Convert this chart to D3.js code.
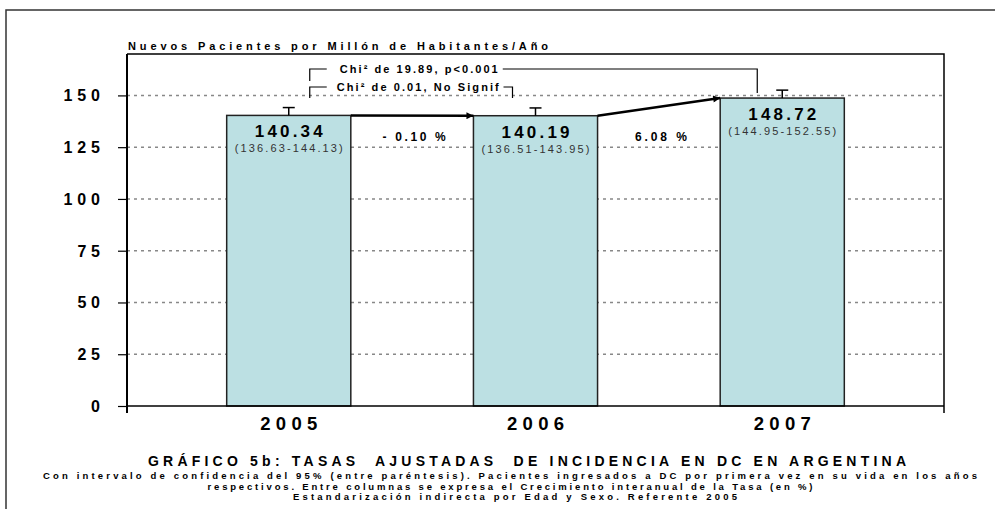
<!DOCTYPE html>
<html>
<head>
<meta charset="utf-8">
<script src="https://cdn.jsdelivr.net/npm/d3@7.9.0/dist/d3.min.js"></script>
<style>
  body { margin: 0; background: #fff; }
  svg { display: block; font-family: "Liberation Sans", Arial, sans-serif; }
</style>
</head>
<body>
<svg id="chart" width="995" height="509"></svg>
<script>
// chart data
const years = ['2005', '2006', '2007'];
const rates = [140.34, 140.19, 148.72];
const ciLow = [136.63, 136.51, 144.95];
const ciHigh = [144.13, 143.95, 152.55];
const growth = ['- 0.10 %', '6.08 %'];
const yTicks = [0, 25, 50, 75, 100, 125, 150];

const yTitle = 'Nuevos Pacientes por Millón de Habitantes/Año';
const chiLow = 'Chi² de 0.01, No Signif';
const chiHigh = 'Chi² de 19.89, p<0.001';
const title = 'GRÁFICO 5b: TASAS  AJUSTADAS  DE INCIDENCIA EN DC EN ARGENTINA';
const notes = [
    'Con intervalo de confidencia del 95% (entre paréntesis). Pacientes ingresados a DC por primera vez en su vida en los años',
    'respectivos. Entre columnas se expresa el Crecimiento interanual de la Tasa (en %)',
    'Estandarización indirecta por Edad y Sexo. Referente 2005'
];

const svg = d3.select('#chart');
const plotL = 127, plotR = 944, plotT = 54, plotB = 406;

let x = d3.scaleBand().domain(years).range([plotL, plotR])
    .paddingInner(0.497).paddingOuter(0.404);
let y = d3.scaleLinear().domain([0, 170]).range([plotB, plotT]);
let cx = (d) => x(d) + x.bandwidth() / 2;

// outer frame
svg.append('path')
    .attr('d', 'M6,509V10H995')
    .attr('fill', 'none').attr('stroke', '#333').attr('stroke-width', 1.5);

// spaced text helper (textLength stretches the letter spacing)
function label(g, txt, px, py, size, len, anchor, weight, color) {
    return g.append('text')
        .attr('x', px).attr('y', py)
        .attr('font-size', size)
        .attr('font-weight', weight || 'bold')
        .attr('fill', color || '#000')
        .attr('text-anchor', anchor || 'middle')
        .attr('textLength', len)
        .attr('lengthAdjust', 'spacing')
        .style('white-space', 'pre')
        .text(txt);
}

// gridlines
svg.append('g').selectAll('line')
    .data(yTicks.filter(d => d > 0))
    .join('line')
    .attr('x1', plotL).attr('x2', plotR)
    .attr('y1', d => y(d)).attr('y2', d => y(d))
    .attr('stroke', '#888').attr('stroke-width', 1.5)
    .attr('stroke-dasharray', '3,4');

// plot border (top + right)
svg.append('path')
    .attr('d', `M${plotL},${plotT}H${plotR}V${plotB + 7}`)
    .attr('fill', 'none').attr('stroke', '#000').attr('stroke-width', 1.5);

// y axis
let yAxis = d3.axisLeft(y).tickValues(yTicks).tickSize(9).tickFormat('');
let ya = svg.append('g').attr('transform', `translate(${plotL},0)`).call(yAxis);
ya.select('.domain').remove();
ya.selectAll('line').attr('stroke', '#000').attr('stroke-width', 1.2);
svg.append('line')
    .attr('x1', plotL).attr('x2', plotL).attr('y1', plotT).attr('y2', plotB + 7)
    .attr('stroke', '#000').attr('stroke-width', 2);
yTicks.forEach(t => {
    let s = String(t);
    label(svg, s, 100, y(t) + 6, 16, s.length === 1 ? 10 : s.length * 14 - 5.5, 'end');
});

// bars
svg.append('g').selectAll('rect')
    .data(years)
    .join('rect')
    .attr('x', d => x(d))
    .attr('y', (d, i) => y(rates[i]))
    .attr('width', x.bandwidth())
    .attr('height', (d, i) => y(0) - y(rates[i]))
    .attr('fill', '#bce0e3')
    .attr('stroke', '#222').attr('stroke-width', 1.5);

// upper error whiskers
years.forEach((d, i) => {
    svg.append('line')
        .attr('x1', cx(d)).attr('x2', cx(d))
        .attr('y1', y(rates[i])).attr('y2', y(ciHigh[i]))
        .attr('stroke', '#000').attr('stroke-width', 1.5);
    svg.append('line')
        .attr('x1', cx(d) - 6).attr('x2', cx(d) + 6)
        .attr('y1', y(ciHigh[i])).attr('y2', y(ciHigh[i]))
        .attr('stroke', '#000').attr('stroke-width', 1.5);
});

// x axis
svg.append('line')
    .attr('x1', plotL).attr('x2', plotR).attr('y1', plotB).attr('y2', plotB)
    .attr('stroke', '#000').attr('stroke-width', 1.5);
years.forEach(d => label(svg, d, cx(d), plotB + 24, 18.5, 57));

// value labels inside bars
years.forEach((d, i) => {
    label(svg, rates[i].toFixed(2), cx(d), y(rates[i]) + 22, 17, 68);
    label(svg, `(${ciLow[i].toFixed(2)}-${ciHigh[i].toFixed(2)})`,
        cx(d), y(rates[i]) + 37, 11, 108, 'middle', 'normal', '#333');
});

// arrows between bars
svg.append('defs').append('marker')
    .attr('id', 'arr').attr('viewBox', '0 0 10 10')
    .attr('refX', 10).attr('refY', 5)
    .attr('markerWidth', 4).attr('markerHeight', 2.8)
    .attr('markerUnits', 'strokeWidth')
    .attr('orient', 'auto')
    .append('path').attr('d', 'M0,0L10,5L0,10z').attr('fill', '#000');

for (let i = 0; i < years.length - 1; i++) {
    let x0 = x(years[i]) + x.bandwidth(), x1 = x(years[i + 1]);
    svg.append('line')
        .attr('x1', x0).attr('y1', y(rates[i]))
        .attr('x2', x1).attr('y2', y(rates[i + 1]))
        .attr('stroke', '#000').attr('stroke-width', 2.5)
        .attr('marker-end', 'url(#arr)');
    label(svg, growth[i], (x0 + x1) / 2 + 2, 141, 12, i === 0 ? 63 : 52);
}

// chi-square brackets
let bl = cx(years[0]) + 21;
let br1 = cx(years[1]) - 23;
let br2 = cx(years[2]) - 25;
let bk = svg.append('g').attr('fill', 'none').attr('stroke', '#000').attr('stroke-width', 1.2);
bk.append('path').attr('d', `M${bl},98V87H${bl + 17}M${br1 - 9},87H${br1}V98`);
bk.append('path').attr('d', `M${bl},81V69H${bl + 17}M${bl + 193},69H${br2}V93`);
label(svg, chiLow, bl + 27, 91, 11, 162, 'start');
label(svg, chiHigh, bl + 30, 73, 11, 158, 'start');

// y axis title
label(svg, yTitle, plotL + 1, 50, 11, 420, 'start');

// titles
label(svg, title, 527, 466, 14, 758);
label(svg, notes[0], 510, 479, 9.5, 934);
label(svg, notes[1], 510, 489.5, 9.5, 605);
label(svg, notes[2], 515, 500, 9.5, 444);
</script>
</body>
</html>
